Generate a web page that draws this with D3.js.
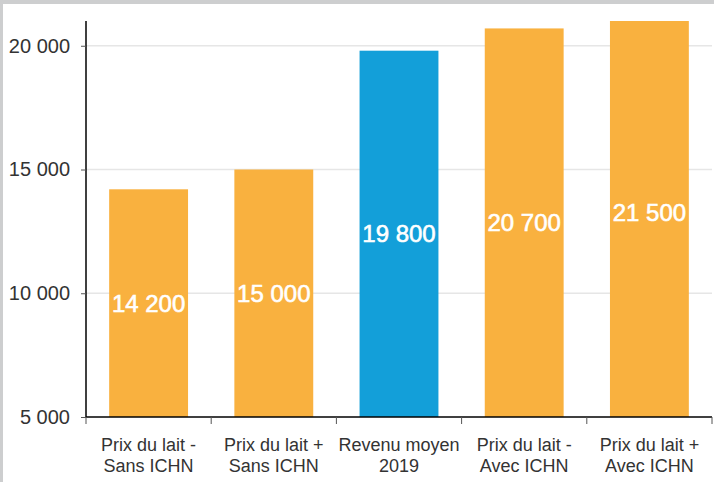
<!DOCTYPE html>
<html>
<head>
<meta charset="utf-8">
<script src="https://cdn.jsdelivr.net/npm/d3@7"></script>
<style>
  html, body { margin: 0; padding: 0; background: #cdcecf; }
  #chart { position: absolute; left: 3px; top: 4px; width: 711px; height: 478px; background: #fff; }
  text { font-family: "Liberation Sans", Arial, sans-serif; }
</style>
</head>
<body>
<div id="chart"></div>
<script>
const categories = [
  ['Prix du lait -', 'Sans ICHN'],
  ['Prix du lait +', 'Sans ICHN'],
  ['Revenu moyen', '2019'],
  ['Prix du lait -', 'Avec ICHN'],
  ['Prix du lait +', 'Avec ICHN']
]
const values = [14200, 15000, 19800, 20700, 21500]
const colors = ['#f9b13f', '#f9b13f', '#139fd9', '#f9b13f', '#f9b13f']
const yTicks = [5000, 10000, 15000, 20000]

const width = 714
const height = 482
const fmt = v => d3.format(',')(v).replace(/,/g, ' ')

const svg = d3.select('body')
  .append('svg')
  .attr('width', width)
  .attr('height', height)
  .style('position', 'absolute')
  .style('left', 0)
  .style('top', 0)

const mLeft = 86, mRight = 712, mTop = 21, mBottom = 417

const x = d3.scaleBand()
  .domain(d3.range(categories.length))
  .range([mLeft, mRight])
  .padding(0)
const y = d3.scaleLinear()
  .domain([5000, 21000])
  .range([mBottom, mTop])

// grid
svg.append('g')
  .selectAll('line')
  .data(yTicks.slice(1))
  .join('line')
  .attr('x1', mLeft).attr('x2', mRight)
  .attr('y1', d => y(d)).attr('y2', d => y(d))
  .attr('stroke', '#e6e6e6')
  .attr('stroke-width', 1.5)

svg.append('clipPath').attr('id', 'plot')
  .append('rect')
  .attr('x', mLeft).attr('y', mTop)
  .attr('width', mRight - mLeft).attr('height', mBottom - mTop)

const barW = x.bandwidth() * 0.63
const bars = svg.append('g').attr('clip-path', 'url(#plot)')
bars.selectAll('rect')
  .data(values)
  .join('rect')
  .attr('x', (d, i) => x(i) + (x.bandwidth() - barW) / 2)
  .attr('width', barW)
  .attr('y', d => y(d))
  .attr('height', d => mBottom - y(d))
  .attr('fill', (d, i) => colors[i])

bars.selectAll('text')
  .data(values)
  .join('text')
  .attr('x', (d, i) => x(i) + x.bandwidth() / 2)
  .attr('y', d => (y(d) + mBottom) / 2)
  .attr('dy', '0.36em')
  .attr('text-anchor', 'middle')
  .attr('fill', '#fff')
  .attr('stroke', '#fff')
  .attr('stroke-width', 0.6)
  .attr('font-size', 24)
  .text(fmt)

// y axis
const yAxis = svg.append('g')
  .attr('transform', `translate(${mLeft},0)`)
  .call(d3.axisLeft(y).tickValues(yTicks).tickFormat(fmt).tickSize(5).tickPadding(11))
yAxis.select('.domain').attr('d', `M0,${mTop}V${mBottom}`).attr('stroke', '#000').attr('stroke-width', 1.5)
yAxis.selectAll('.tick line').attr('stroke', '#555')
yAxis.selectAll('.tick text').attr('font-size', 20).attr('fill', '#333')
  .attr('font-family', '"Liberation Sans", Arial, sans-serif')

// x axis
const xAxis = svg.append('g')
  .attr('transform', `translate(0,${mBottom})`)
  .call(d3.axisBottom(x).tickSize(0).tickFormat(() => ''))
xAxis.select('.domain').attr('d', `M${mLeft},0H${mRight}`).attr('stroke', '#000').attr('stroke-width', 1.5)

const bounds = d3.range(categories.length).map(i => x(i)).concat([mRight])
xAxis.selectAll('.bound')
  .data(bounds)
  .join('line')
  .attr('class', 'bound')
  .attr('x1', d => d).attr('x2', d => d)
  .attr('y1', 0).attr('y2', 7)
  .attr('stroke', '#555')

xAxis.selectAll('.tick text').each(function (d) {
  const t = d3.select(this)
    .attr('y', 0)
    .attr('dy', null)
    .attr('font-size', 18)
    .attr('fill', '#333')
    .attr('font-family', '"Liberation Sans", Arial, sans-serif')
  categories[d].forEach((line, j) => {
    t.append('tspan')
      .attr('x', 0)
      .attr('y', 34 + j * 21)
      .text(line)
  })
})
</script>
</body>
</html>
